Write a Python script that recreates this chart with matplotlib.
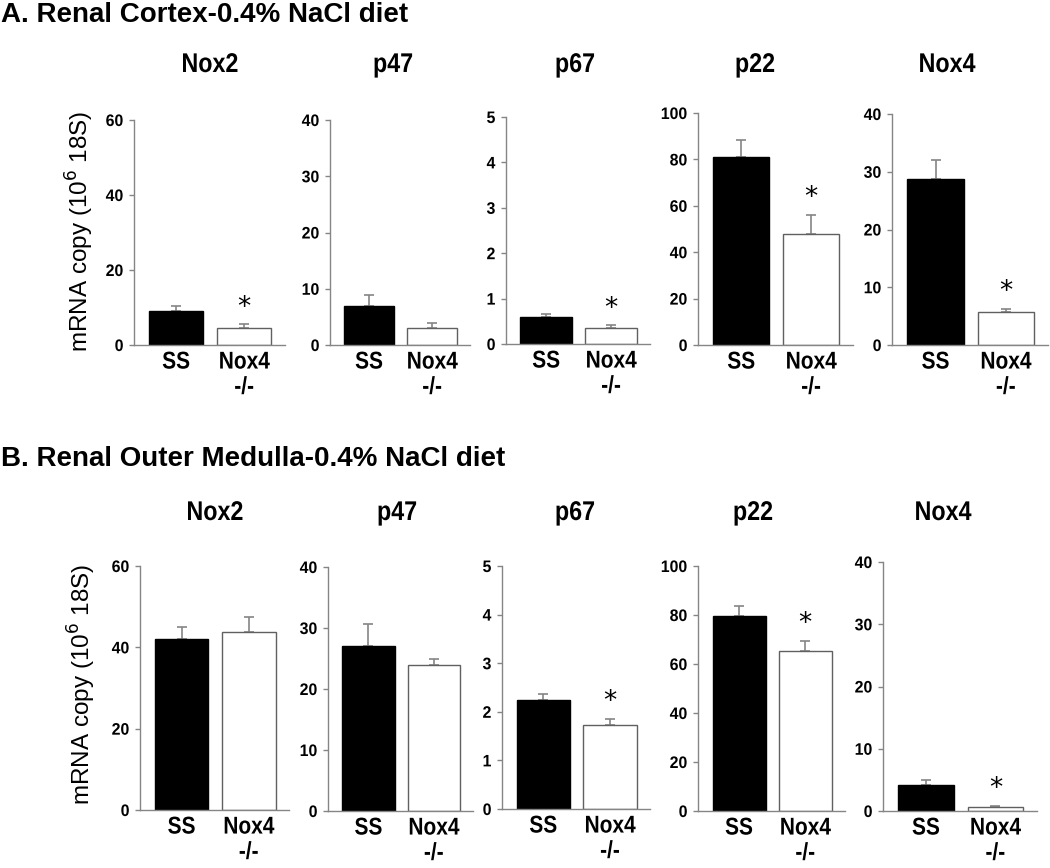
import matplotlib
matplotlib.use("Agg")
import matplotlib.pyplot as plt
from matplotlib.patheffects import AbstractPathEffect
from matplotlib.transforms import Affine2D

# ---------------- data ----------------
genes = ["Nox2", "p47", "p67", "p22", "Nox4"]
groups = ["SS", "Nox4\n-/-"]
ymax = [60, 40, 5, 100, 40]
ystep = [20, 10, 1, 20, 10]

cortex_ss = [9.2, 6.9, 0.60, 81.0, 28.8]
cortex_ss_err = [1.3, 2.0, 0.06, 7.2, 3.3]
cortex_ko = [4.5, 3.1, 0.36, 47.8, 5.7]
cortex_ko_err = [1.0, 0.8, 0.05, 8.4, 0.6]
cortex_sig = [True, False, True, True, True]

medulla_ss = [42.0, 27.0, 2.25, 79.7, 4.1]
medulla_ss_err = [3.1, 3.6, 0.11, 4.0, 0.8]
medulla_ko = [43.7, 24.0, 1.73, 65.4, 0.7]
medulla_ko_err = [3.7, 1.0, 0.13, 4.0, 0.1]
medulla_sig = [False, False, True, True, True]

section_titles = ["A. Renal Cortex-0.4% NaCl diet",
                  "B. Renal Outer Medulla-0.4% NaCl diet"]
ylabel = "mRNA copy (10$^{6}$ 18S)"

# ---------------- layout (pixels) ----------------
W, H = 1050, 868
# (x_left, x_right, y_top, y_zero)
boxes = [
    [(134, 285, 120, 345), (330, 470, 120, 345), (506, 650, 117, 344),
     (698, 853, 113, 345), (892, 1048, 114, 345)],
    [(140, 289, 566, 810), (328, 473, 567, 811), (502, 650, 566, 809),
     (698, 845, 566, 811), (883, 1037, 562, 811)],
]
title_x = [[210, 393, 575, 755, 947], [215, 397, 575, 753, 943]]
title_y = [65, 513]
section_y = [15, 459]
ylabel_pos = [(80, 231), (82, 684)]


class Condense(AbstractPathEffect):
    """Horizontally squeeze glyphs about their own centre (narrow font look)."""

    def __init__(self, sx=0.85):
        super().__init__()
        self.sx = sx

    def draw_path(self, renderer, gc, tpath, affine, rgbFace=None):
        ext = tpath.get_extents()
        cx = (ext.x0 + ext.x1) / 2
        t = Affine2D().translate(-cx, 0).scale(self.sx, 1).translate(cx, 0) + affine
        renderer.draw_path(gc, tpath, t, rgbFace)


BOLD = ["Liberation Sans", "DejaVu Sans"]
GRAY = "#858585"

fig = plt.figure(figsize=(W / 100, H / 100), dpi=100)
fig.patch.set_facecolor("white")

rows = [
    (cortex_ss, cortex_ss_err, cortex_ko, cortex_ko_err, cortex_sig),
    (medulla_ss, medulla_ss_err, medulla_ko, medulla_ko_err, medulla_sig),
]

for r, (ss, sse, ko, koe, sig) in enumerate(rows):
    fig.text(1 / W, 1 - section_y[r] / H, section_titles[r], family=BOLD,
             weight="bold", fontsize=20, ha="left", va="center")
    fig.text(ylabel_pos[r][0] / W, 1 - ylabel_pos[r][1] / H, ylabel,
             family=BOLD, fontsize=17.5, rotation=90, ha="center", va="center")
    for i, g in enumerate(genes):
        xl, xr, yt, y0 = boxes[r][i]
        ax = fig.add_axes([xl / W, 1 - y0 / H, (xr - xl) / W, (y0 - yt) / H])
        vals = [ss[i], ko[i]]
        errs = [sse[i], koe[i]]
        ax.bar([0, 1], vals, width=0.8, color=["black", "white"],
               edgecolor=["black", "#606060"], linewidth=1.0, zorder=2)
        ax.errorbar([0, 1], vals, yerr=[[0, 0], errs], fmt="none",
                    ecolor=GRAY, elinewidth=1.2, capsize=3.5,
                    capthick=1.2, zorder=1)
        if sig[i]:
            ax.annotate("*", xy=(1, ko[i] + koe[i]), xytext=(0, 12),
                        textcoords="offset points", ha="center", va="center",
                        fontsize=19, family=["DejaVu Sans"])
        ax.set_xlim(-0.62, 1.6)
        ax.set_ylim(0, ymax[i])
        ax.set_yticks(range(0, ymax[i] + 1, ystep[i]))
        ax.set_xticks([0, 1])
        xt = ax.set_xticklabels(groups, family=BOLD, weight="bold",
                                fontsize=17.5, linespacing=1.12)
        for lab in xt:
            lab.set_path_effects([Condense(0.86)])
        for lab in ax.get_yticklabels():
            lab.set_family(BOLD)
            lab.set_weight("bold")
            lab.set_fontsize(12)
            lab.set_path_effects([Condense(0.95)])
        ax.tick_params(axis="x", length=0, pad=4)
        ax.tick_params(axis="y", direction="out", length=3.5, width=1,
                       color=GRAY, pad=4)
        for s in ["top", "right"]:
            ax.spines[s].set_visible(False)
        for s in ["left", "bottom"]:
            ax.spines[s].set_color(GRAY)
            ax.spines[s].set_linewidth(1.0)
        ax.patch.set_alpha(0)
        t = fig.text(title_x[r][i] / W, 1 - title_y[r] / H, g, family=BOLD,
                     weight="bold", fontsize=19.5, ha="center", va="center")
        t.set_path_effects([Condense(0.86)])

fig.savefig("out.png", dpi=100, facecolor="white")
